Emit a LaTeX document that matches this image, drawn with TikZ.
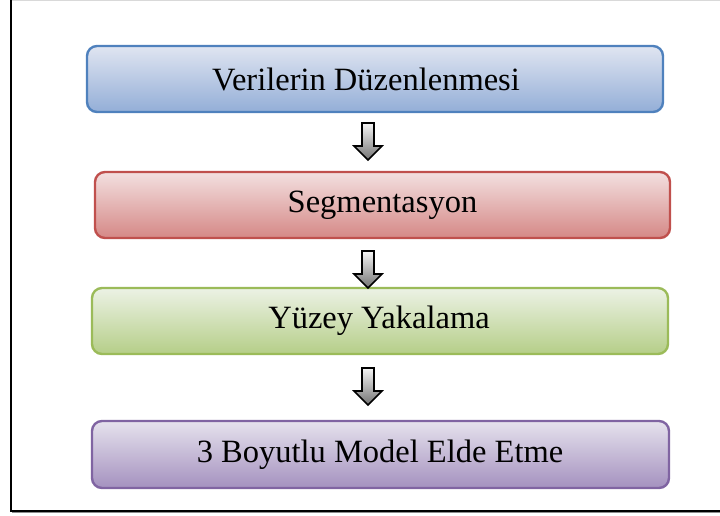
\documentclass[tikz,border=0pt]{standalone}
\usepackage{fontspec}
\setmainfont{Liberation Serif}
\begin{document}
\begin{tikzpicture}[x=1pt,y=-1pt,
  stagebox/.style={rounded corners=10pt, line width=2.4pt},
  stagetext/.style={font=\fontsize{32.5}{38}\selectfont, text=black, inner sep=0pt, anchor=center},
  downarrow/.pic={
    \path[draw=black, line width=1.6pt, line join=miter,
          top color=white!92!gray, bottom color=black!55]
      (-6,0) -- (6,0) -- (6,23) -- (14,23) -- (0,37) -- (-14,23) -- (-6,23) -- cycle;
  }]
  \definecolor{bluedraw}{RGB}{79,129,189}
  \definecolor{bluetop}{RGB}{224,229,241}
  \definecolor{bluemid}{RGB}{200,211,232}
  \definecolor{bluebot}{RGB}{147,174,215}
  \definecolor{reddraw}{RGB}{192,80,77}
  \definecolor{redtop}{RGB}{243,224,224}
  \definecolor{redmid}{RGB}{233,196,195}
  \definecolor{redbot}{RGB}{213,136,134}
  \definecolor{greendraw}{RGB}{155,187,89}
  \definecolor{greentop}{RGB}{236,242,229}
  \definecolor{greenmid}{RGB}{215,228,192}
  \definecolor{greenbot}{RGB}{181,206,136}
  \definecolor{purpledraw}{RGB}{128,100,162}
  \definecolor{purpletop}{RGB}{230,226,237}
  \definecolor{purplemid}{RGB}{204,195,218}
  \definecolor{purplebot}{RGB}{164,145,191}

  \useasboundingbox (0,0) rectangle (720,515);

  % outer frame
  \draw[black!15, line width=1pt] (10,0.5) -- (720,0.5);
  \draw[black, line width=2pt] (11,0) -- (11,510.5);
  \draw[black, line width=2pt] (10,510.5) -- (720,510.5);
  \draw[black!45, line width=0.8pt] (12,512.5) -- (720,512.5);

  % stage boxes
  \path[stagebox, draw=bluedraw, top color=bluetop, middle color=bluemid, bottom color=bluebot]
    (87,46) rectangle (663,112);
  \node[stagetext] (b1) at (366,79) {Verilerin Düzenlenmesi};

  \path[stagebox, draw=reddraw, top color=redtop, middle color=redmid, bottom color=redbot]
    (95,172) rectangle (670,238);
  \node[stagetext] (b2) at (382.5,205) {Segmentasyon};

  \path[stagebox, draw=greendraw, top color=greentop, middle color=greenmid, bottom color=greenbot]
    (92,288) rectangle (668,354);
  \node[stagetext] (b3) at (379,321) {Yüzey Yakalama};

  \path[stagebox, draw=purpledraw, top color=purpletop, middle color=purplemid, bottom color=purplebot]
    (92,421) rectangle (669,488);
  \node[stagetext] (b4) at (380,454.5) {3 Boyutlu Model Elde Etme};

  % arrows between stages
  \coordinate (a1) at (368,123);
  \coordinate (a2) at (368,251);
  \coordinate (a3) at (368,368);
  \pic at (a1) {downarrow};
  \pic at (a2) {downarrow};
  \pic at (a3) {downarrow};
\end{tikzpicture}
\end{document}
